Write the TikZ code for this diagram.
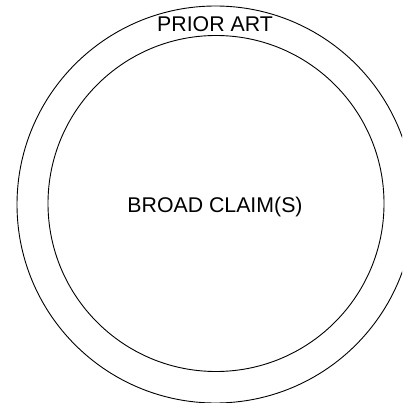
\documentclass[tikz,border=0pt]{standalone}
\usepackage{fontspec}
\setmainfont{Liberation Sans}
\begin{document}
\begin{tikzpicture}[x=1pt,y=-1pt,
  ring/.style={draw=black,line width=0.9pt,circle,inner sep=0pt,outer sep=0pt},
  lbl/.style={inner sep=0pt,font=\fontsize{21.3}{25}\selectfont,anchor=base}]
\useasboundingbox (0,0) rectangle (402,403);
\clip (0,0) rectangle (402,403);
\node[ring,minimum size=397pt] (prior) at (215.5,204.5) {};
\node[ring,minimum size=336pt] (claims) at (216,203.5) {};
\node[lbl] (priorlbl) at (215,31.5) {PRIOR ART};
\node[lbl] (claimslbl) at (215,212.5) {BROAD CLAIM(S)};
\end{tikzpicture}
\end{document}
